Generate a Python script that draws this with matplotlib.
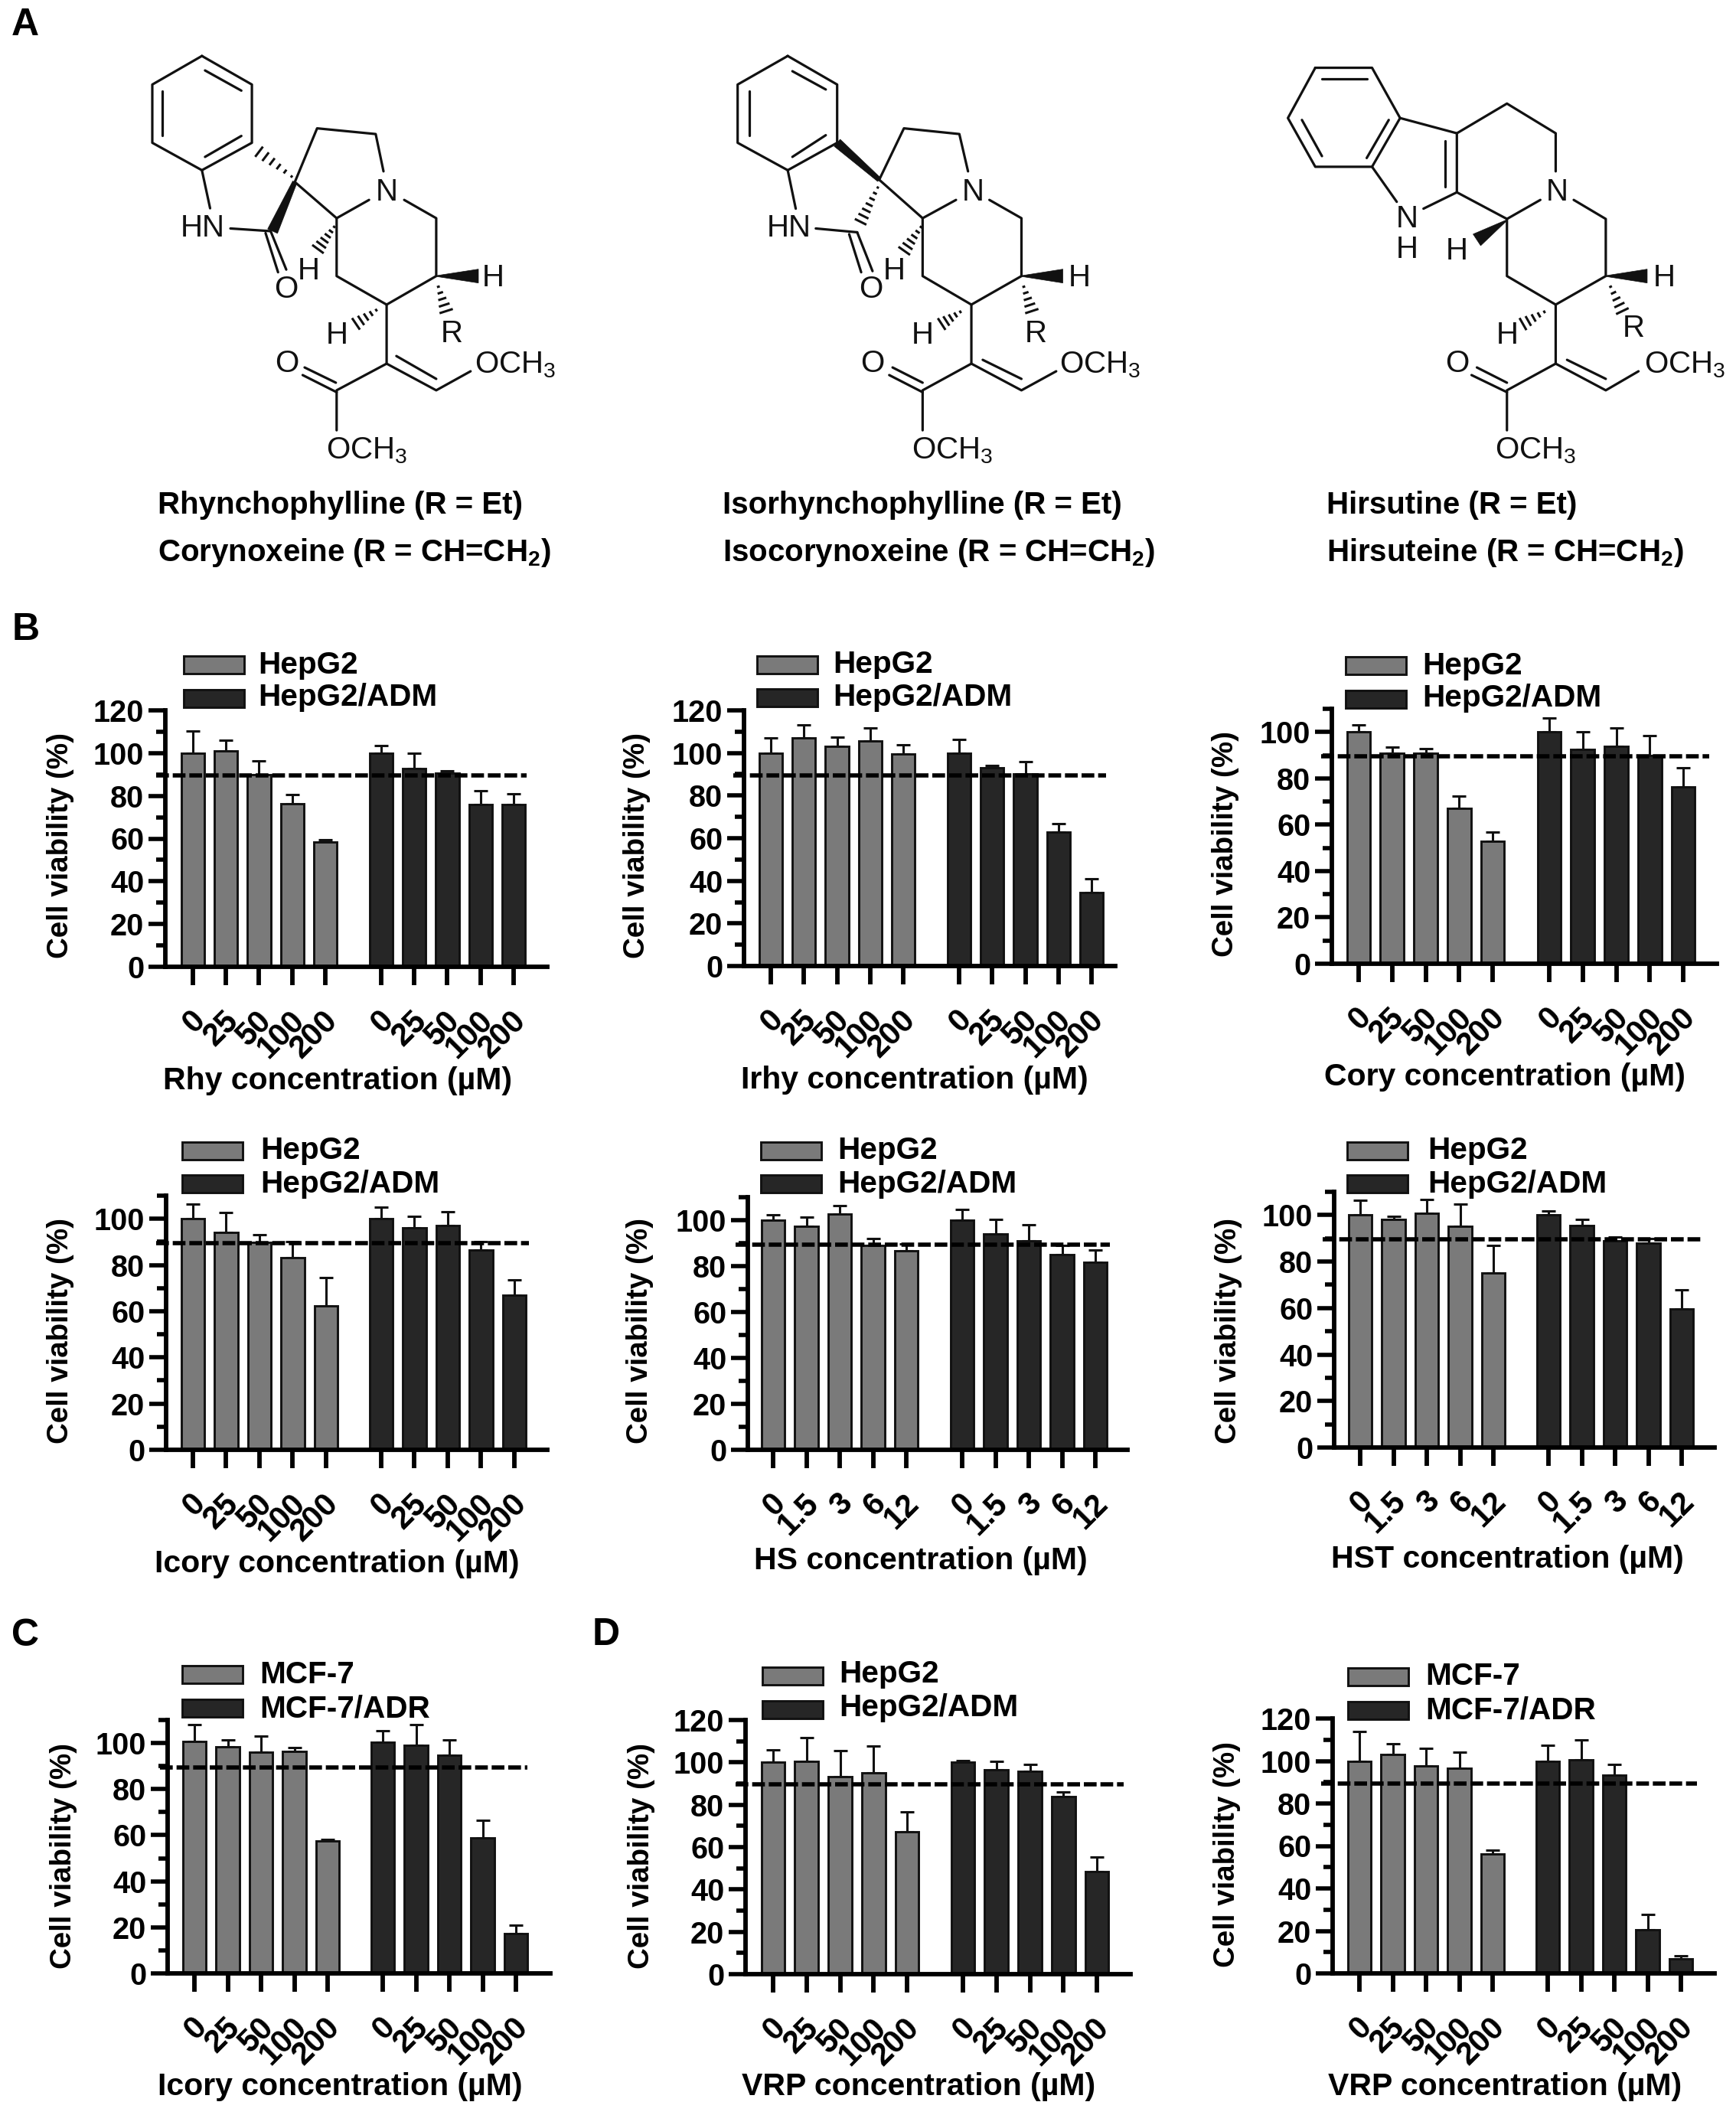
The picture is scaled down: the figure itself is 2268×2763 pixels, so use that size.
"""Cell viability bar panels with the six alkaloid structures above them."""
import matplotlib
matplotlib.use('Agg')
import matplotlib.pyplot as plt
from matplotlib.patches import Polygon, Rectangle
from matplotlib.ticker import MultipleLocator
from matplotlib.transforms import ScaledTranslation
import numpy as np

plt.rcParams['font.family'] = ['Liberation Sans', 'DejaVu Sans']
plt.rcParams['mathtext.default'] = 'regular'

W, H = 2268, 2763
DPI = 100
GRAY, DARK = '#7a7a7a', '#262626'

# ---- data (mean, top of the error bar) ----
CONC = ['0', '25', '50', '100', '200']
CONC_HS = ['0', '1.5', '3', '6', '12']
CUTOFF = 89.5

rhy_a = [100, 101, 90, 76.2, 58.4]
rhy_a_top = [110.2, 106, 96.3, 80.5, 59.3]
rhy_b = [100, 92.8, 90.5, 76, 75.8]
rhy_b_top = [103.4, 100, 91.6, 82.3, 81]

irhy_a = [100, 107, 103, 105.5, 99.6]
irhy_a_top = [107, 113, 107.3, 111.7, 103.7]
irhy_b = [100, 93, 90, 63, 34.5]
irhy_b_top = [106.5, 94, 96, 66.7, 41]

cory_a = [100, 91, 91, 67.2, 52.8]
cory_a_top = [103, 93.4, 92.8, 72.4, 56.8]
cory_b = [100, 92.5, 93.8, 89.9, 76.4]
cory_b_top = [105.9, 100.1, 101.7, 98.4, 84.5]

icory_a = [100, 94, 89.9, 83.3, 62.3]
icory_a_top = [106.3, 102.6, 93, 90, 74.7]
icory_b = [100, 96, 97, 86.5, 67]
icory_b_top = [104.9, 101, 102.9, 90.2, 73.6]

hs_a = [100, 97.2, 102.6, 89, 86.6]
hs_a_top = [102.5, 101.3, 106.2, 91.9, 89.7]
hs_b = [100, 93.9, 91, 85, 81.7]
hs_b_top = [104.6, 100.5, 97.9, 89, 87]

hst_a = [100, 98, 100.7, 95.3, 75.1]
hst_a_top = [106.4, 99.3, 106.6, 104.8, 86.8]
hst_b = [100, 95.4, 89, 87.8, 59.5]
hst_b_top = [101.8, 98.3, 90.7, 90, 67.9]

mcf_icory_a = [100.6, 98.4, 96, 96.3, 57.6]
mcf_icory_a_top = [108, 101.4, 103.1, 97.9, 58.2]
mcf_icory_b = [100.3, 98.9, 94.6, 58.9, 17.2]
mcf_icory_b_top = [105.2, 108, 101.3, 66.4, 20.9]

vrp_hep_a = [100, 100.6, 93.4, 94.9, 67.3]
vrp_hep_a_top = [105.9, 111.7, 105.6, 107.6, 76.8]
vrp_hep_b = [100, 96.4, 95.7, 83.9, 48.5]
vrp_hep_b_top = [101, 100.4, 99, 86, 55.4]

vrp_mcf_a = [100, 102.9, 97.5, 96.7, 56.3]
vrp_mcf_a_top = [113.9, 108.1, 106, 104.3, 57.9]
vrp_mcf_b = [100, 100.5, 93.2, 20.6, 7]
vrp_mcf_b_top = [107.4, 110, 98.5, 27.9, 8.2]

# name, tick labels, legend labels, series, top of y axis
PANELS = [
    ('Rhy', CONC, ('HepG2', 'HepG2/ADM'), rhy_a, rhy_a_top, rhy_b, rhy_b_top, 120),
    ('Irhy', CONC, ('HepG2', 'HepG2/ADM'), irhy_a, irhy_a_top, irhy_b, irhy_b_top, 120),
    ('Cory', CONC, ('HepG2', 'HepG2/ADM'), cory_a, cory_a_top, cory_b, cory_b_top, 110),
    ('Icory', CONC, ('HepG2', 'HepG2/ADM'), icory_a, icory_a_top, icory_b, icory_b_top, 110),
    ('HS', CONC_HS, ('HepG2', 'HepG2/ADM'), hs_a, hs_a_top, hs_b, hs_b_top, 110),
    ('HST', CONC_HS, ('HepG2', 'HepG2/ADM'), hst_a, hst_a_top, hst_b, hst_b_top, 110),
    ('Icory', CONC, ('MCF-7', 'MCF-7/ADR'), mcf_icory_a, mcf_icory_a_top, mcf_icory_b, mcf_icory_b_top, 110),
    ('VRP', CONC, ('HepG2', 'HepG2/ADM'), vrp_hep_a, vrp_hep_a_top, vrp_hep_b, vrp_hep_b_top, 120),
    ('VRP', CONC, ('MCF-7', 'MCF-7/ADR'), vrp_mcf_a, vrp_mcf_a_top, vrp_mcf_b, vrp_mcf_b_top, 120),
]

# ---- layout in pixels of the full picture ----
# yaxis x, axis end x, y of 0, y of axis top, first bar, last bar group 1, first bar group 2,
# dash start, dash end
AXES = [
    (216, 715, 1263, 928, 252, 425, 498, 204, 688),
    (972, 1457, 1262, 928, 1007, 1180, 1253, 958, 1445),
    (1740, 2243, 1259, 926, 1775, 1950, 2024, 1726, 2233),
    (217, 715, 1894, 1562, 252, 426, 498, 204, 691),
    (977, 1473, 1894, 1564, 1010, 1184, 1257, 961, 1450),
    (1743, 2240, 1891, 1557, 1777, 1951, 2023, 1728, 2222),
    (219, 719, 2578, 2247, 254, 428, 500, 209, 689),
    (974, 1477, 2579, 2247, 1010, 1185, 1258, 961, 1468),
    (1741, 2240, 2578, 2245, 1776, 1950, 2022, 1726, 2217),
]
# swatch x, text x, swatch top 1, swatch top 2, text y 1, text y 2
LEGENDS = [
    (240, 337, 857, 901, 869, 911),
    (989, 1088, 857, 900, 868, 911),
    (1758, 1858, 858, 902, 870, 912),
    (238, 340, 1492, 1535, 1503, 1547),
    (994, 1094, 1492, 1535, 1503, 1547),
    (1760, 1865, 1492, 1535, 1503, 1547),
    (238, 339, 2176, 2220, 2188, 2233),
    (996, 1096, 2178, 2222, 2187, 2231),
    (1761, 1862, 2179, 2223, 2190, 2234),
]
XLAB = [(441, 1412), (1195, 1411), (1966, 1407), (440, 2043), (1203, 2039),
        (1969, 2037), (444, 2726), (1200, 2726), (1966, 2726)]
YLAB = [(79, 1105), (832, 1105), (1601, 1102), (79, 1738), (836, 1739),
        (1605, 1738), (83, 2424), (838, 2424), (1603, 2423)]

fig = plt.figure(figsize=(W / DPI, H / DPI), dpi=DPI, facecolor='white')
ov = fig.add_axes([0, 0, 1, 1])
ov.set_xlim(0, W); ov.set_ylim(H, 0); ov.axis('off')
label_shift = ScaledTranslation(-4 / DPI, 0, fig.dpi_scale_trans)


def draw_panel(i):
    name, ticks, labs, a, a_top, b, b_top, ytop = PANELS[i]
    yx, xend, y0, ytop_px, first, last, first2, d0, d1 = AXES[i]
    ax = fig.add_axes([yx / W, 1 - y0 / H, (xend - yx) / W, (y0 - ytop_px) / H])
    ax.patch.set_alpha(0)
    ax.set_xlim(yx, xend); ax.set_ylim(0, ytop)
    step = (last - first) / 4
    xa = first + step * np.arange(5)
    xb = first2 + step * np.arange(5)
    for x, v, top, c in ((xa, a, a_top, GRAY), (xb, b, b_top, DARK)):
        v, top = np.array(v), np.array(top)
        ax.bar(x, v, width=step * 0.7, color=c, edgecolor='#111111', linewidth=2.1, zorder=2)
        ax.errorbar(x, v, yerr=[np.zeros(5), top - v], fmt='none', ecolor='#111111',
                    elinewidth=2.2, capsize=6.2, capthick=2.2, zorder=1.5)
    ax.plot([d0, d1], [CUTOFF, CUTOFF], color='black', lw=4, dashes=(3.0, 0.9),
            clip_on=False, zorder=4)
    for s in ('top', 'right'):
        ax.spines[s].set_visible(False)
    for s in ('left', 'bottom'):
        ax.spines[s].set_linewidth(4.2)
    ax.yaxis.set_major_locator(MultipleLocator(20))
    ax.yaxis.set_minor_locator(MultipleLocator(10))
    ax.tick_params(axis='y', which='major', length=16, width=4, pad=4, labelsize=28.5)
    ax.tick_params(axis='y', which='minor', length=9, width=4)
    ax.tick_params(axis='x', which='major', length=17, width=4.2, pad=19)
    ax.set_xticks(np.r_[xa, xb])
    ax.set_xticklabels(list(ticks) * 2, rotation=45, ha='right', va='top',
                       rotation_mode='anchor', fontsize=30, fontweight='bold')
    for t in ax.get_xticklabels():
        t.set_transform(t.get_transform() + label_shift)
    plt.setp(ax.get_yticklabels(), fontweight='bold')

    sx, tx, t1, t2, ty1, ty2 = LEGENDS[i]
    for top, c, lab, ty in ((t1, GRAY, labs[0], ty1), (t2, DARK, labs[1], ty2)):
        ov.add_patch(Rectangle((sx, top), 79, 23, fc=c, ec='#111111', lw=2.1))
        ov.text(tx, ty, lab, fontsize=29.2, fontweight='bold', va='center', ha='left')
    ov.text(*XLAB[i], f'{name} concentration (µM)', fontsize=29.5, fontweight='bold',
            ha='center', va='center')
    ov.text(*YLAB[i], 'Cell viability (%)', fontsize=27.7, fontweight='bold', rotation=90,
            ha='center', va='center')


for i in range(len(PANELS)):
    draw_panel(i)

# ---- structures, coordinates taken from the crops ----
LW = 2.3


def hash_bond(T, p, q, n=6, w=11):
    p, q = np.array(T(p)), np.array(T(q))
    d = q - p
    nrm = np.array([-d[1], d[0]]) / np.hypot(*d)
    for k in range(n):
        f = (k + 0.5) / n
        c = p + d * f
        hw = 1 + w * f
        ov.plot([c[0] - nrm[0] * hw, c[0] + nrm[0] * hw], [c[1] - nrm[1] * hw, c[1] + nrm[1] * hw],
                color='#111111', lw=2.2, solid_capstyle='butt')


def wedge_bond(T, p, q, w=9, tip=0.5):
    p, q = np.array(T(p)), np.array(T(q))
    d = q - p
    nrm = np.array([-d[1], d[0]]) / np.hypot(*d)
    ov.add_patch(Polygon([p + nrm * tip, q + nrm * w, q - nrm * w, p - nrm * tip],
                         fc='#111111', ec='#111111', lw=0.5))


def label(T, p, s, ha='center'):
    x, y = T(p)
    ov.text(x, y, s, fontsize=29, ha=ha, va='center', color='#111111')


def structure(ox, sx, sy, chains, hashes, wedges, labels):
    T = lambda p: (ox + p[0] * sx, p[1] * sy)
    for ch in chains:
        pts = [T(p) for p in ch]
        ov.plot([p[0] for p in pts], [p[1] for p in pts], color='#111111', lw=LW,
                solid_capstyle='round', solid_joinstyle='round')
    for h in hashes:
        hash_bond(T, *h)
    for w in wedges:
        wedge_bond(T, *w)
    for lb in labels:
        label(T, *lb)


OCH3 = 'OCH$_3$'
structure(0, 800 / 1568, 780 / 1568,
          [[(517, 147), (645, 222), (645, 375), (517, 447), (390, 375), (390, 222), (517, 147)],
           [(525, 185), (618, 238)], [(618, 357), (525, 412)], [(415, 240), (415, 355)],
           [(517, 447), (538, 547)], [(590, 600), (693, 607)],
           [(693, 607), (733, 708)], [(680, 612), (712, 715)],
           [(755, 478), (812, 337), (962, 352), (982, 450)],
           [(755, 478), (862, 573), (945, 525)],
           [(1035, 525), (1117, 573), (1117, 725), (990, 800), (862, 725), (862, 573)],
           [(990, 800), (990, 955), (1117, 1025), (1205, 975)], [(1015, 935), (1117, 995)],
           [(990, 955), (862, 1025), (862, 1130)], [(862, 1030), (775, 985)], [(860, 1005), (780, 965)]],
          [((755, 470), (655, 392), 6, 8), ((860, 590), (810, 660), 6, 9), ((1120, 745), (1145, 825), 5, 9),
           ((970, 810), (905, 855), 5, 9)],
          [((755, 478), (698, 607), 7, 3), ((1117, 725), (1225, 725))],
          [((518, 600), 'HN'), ((990, 505), 'N'), ((732, 760), 'O'), ((790, 712), 'H'),
           ((1263, 730), 'H'), ((1157, 877), 'R'), ((862, 880), 'H'), ((735, 955), 'O'),
           ((1215, 958), OCH3, 'left'), ((940, 1183), OCH3)])

structure(900, 1368 / 1568, 780 / 1568,
          [[(148, 147), (222, 222), (222, 375), (148, 447), (73, 375), (73, 222), (148, 147)],
           [(155, 187), (205, 235)], [(205, 355), (155, 412)], [(90, 240), (90, 355)],
           [(148, 447), (160, 548)], [(190, 600), (252, 610)],
           [(252, 610), (275, 712)], [(240, 615), (258, 715)],
           [(285, 472), (322, 337), (405, 352), (418, 450)],
           [(285, 472), (350, 573), (400, 525)],
           [(450, 525), (498, 573), (498, 725), (423, 800), (350, 725), (350, 573)],
           [(423, 800), (423, 955), (498, 1025), (550, 975)], [(440, 945), (498, 995)],
           [(423, 955), (350, 1025), (350, 1130)], [(350, 1030), (300, 985)], [(350, 1005), (305, 965)]],
          [((285, 485), (255, 590), 7, 8), ((350, 590), (320, 665), 6, 9), ((500, 745), (515, 825), 5, 9),
           ((410, 815), (375, 855), 5, 9)],
          [((285, 472), (222, 375), 6, 3), ((498, 725), (560, 725))],
          [((150, 600), 'HN'), ((425, 505), 'N'), ((272, 760), 'O'), ((307, 712), 'H'),
           ((585, 730), 'H'), ((520, 877), 'R'), ((350, 880), 'H'), ((275, 955), 'O'),
           ((555, 958), OCH3, 'left'), ((395, 1183), OCH3)])

structure(900, 1368 / 1568, 780 / 1568,
          [[(938, 178), (1023, 178), (1065, 310), (1023, 438), (938, 438), (897, 310), (938, 178)],
           [(948, 208), (1015, 208)], [(1048, 315), (1015, 415)], [(918, 315), (948, 410)],
           [(1065, 310), (1150, 350), (1150, 505), (1100, 548)], [(1132, 370), (1132, 490)],
           [(1023, 438), (1060, 530)],
           [(1150, 350), (1225, 272), (1298, 350), (1298, 450)],
           [(1150, 505), (1225, 575), (1275, 525)],
           [(1325, 525), (1373, 575), (1373, 725), (1298, 800), (1225, 725), (1225, 575)],
           [(1298, 800), (1298, 955), (1373, 1025), (1422, 975)], [(1315, 945), (1373, 995)],
           [(1298, 955), (1225, 1025), (1225, 1130)], [(1225, 1030), (1172, 985)], [(1225, 1005), (1180, 965)]],
          [((1378, 745), (1400, 825), 5, 9), ((1285, 815), (1245, 855), 5, 9)],
          [((1225, 578), (1180, 630)), ((1373, 725), (1435, 725))],
          [((1075, 575), 'N'), ((1075, 655), 'H'), ((1300, 505), 'N'), ((1150, 660), 'H'),
           ((1460, 730), 'H'), ((1415, 862), 'R'), ((1225, 880), 'H'), ((1150, 955), 'O'),
           ((1430, 958), OCH3, 'left'), ((1268, 1183), OCH3)])

CAPTIONS = [
    (206, 'Rhynchophylline (R = Et)', 'Corynoxeine (R = CH=CH$_2$)'),
    (944, 'Isorhynchophylline (R = Et)', 'Isocorynoxeine (R = CH=CH$_2$)'),
    (1733, 'Hirsutine (R = Et)', 'Hirsuteine (R = CH=CH$_2$)'),
]
for x, s1, s2 in CAPTIONS:
    ov.text(x, 660, s1, fontsize=29, fontweight='bold', ha='left', va='center')
    ov.text(x, 722, s2, fontsize=29, fontweight='bold', ha='left', va='center')

for s, x, y in (('A', 33, 33), ('B', 34, 823), ('C', 33, 2137), ('D', 792, 2136)):
    ov.text(x, y, s, fontsize=36, fontweight='bold', ha='center', va='center')

fig.savefig('out.png', dpi=DPI)
